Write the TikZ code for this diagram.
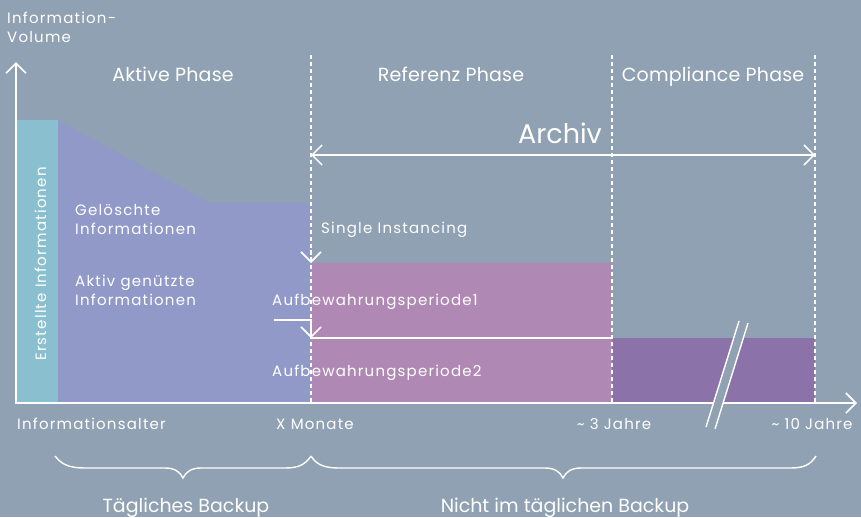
\documentclass[tikz,border=0pt]{standalone}
\usepackage{fontspec}
\setmainfont{Poppins}
\newfontfamily\smallfont[LetterSpace=8]{Poppins}
\newfontfamily\phasefont[LetterSpace=1]{Poppins}
\usetikzlibrary{arrows.meta}
\definecolor{bgc}{RGB}{143,161,178}
\definecolor{tealc}{RGB}{138,191,207}
\definecolor{bluec}{RGB}{144,153,200}
\definecolor{pinkc}{RGB}{176,136,180}
\definecolor{purplec}{RGB}{139,114,169}
\begin{document}
\begin{tikzpicture}[x=1pt,y=-1pt,
  barb/.style={-{Straight Barb[length=10pt,width=20pt,line width=1.6pt]}},
  wline/.style={white, line width=1.6pt},
  dline/.style={white, line width=1.5pt, dash pattern=on 3.5pt off 3.5pt},
  lbl/.style={text=white, inner sep=0pt, font=\smallfont\fontsize{15}{15}\selectfont},
  phase/.style={text=white, inner sep=0pt, font=\phasefont\fontsize{19}{19}\selectfont},
  bottom/.style={text=white, inner sep=0pt, font=\fontsize{19}{19}\selectfont},
  big/.style={text=white, inner sep=0pt, font=\fontsize{27}{27}\selectfont}]
\useasboundingbox[fill=bgc] (0,0) rectangle (861,517);
% areas
\fill[tealc] (17,120) rectangle (58,403);
\fill[bluec] (58,120) -- (210,203) -- (311,203) -- (311,403) -- (58,403) -- cycle;
\fill[pinkc] (311,263) rectangle (612,403);
\fill[purplec] (612,338) rectangle (815,403);
% axes
\coordinate (yt) at (16,62);
\coordinate (org) at (16,403);
\coordinate (xe) at (857,403);
\draw[wline, {Straight Barb[length=10pt,width=20pt,line width=1.6pt]}-{Straight Barb[length=10pt,width=20pt,line width=1.6pt]}] (yt) -- (org) -- (xe);
% break
\fill[bgc] (706,427) -- (739,321) -- (748,323) -- (715,429) -- cycle;
\draw[white, line width=1.4pt] (706,427) -- (739,321) (715,429) -- (748,323);
% dashed phase lines
\coordinate (d1t) at (311,55); \coordinate (d1b) at (311,403);
\coordinate (d2t) at (612,55); \coordinate (d2b) at (612,403);
\coordinate (d3t) at (815,55); \coordinate (d3b) at (815,403);
\draw[dline] (d1t) -- (d1b);
\draw[dline] (d2t) -- (d2b);
\draw[dline] (d3t) -- (d3b);
% Archiv arrow
\coordinate (a1) at (311,155); \coordinate (a2) at (815,155);
\draw[wline, line width=1.5pt, {Straight Barb[length=10pt,width=20pt,line width=1.5pt]}-{Straight Barb[length=10pt,width=20pt,line width=1.5pt]}] (a1) -- (a2);
% single instancing arrow
\coordinate (si1) at (311,250); \coordinate (si2) at (311,263);
\draw[dline, barb] (si1) -- (si2);
% retention arrow
\coordinate (r0) at (274,320); \coordinate (r1) at (311,320); \coordinate (r2) at (311,338);
\draw[wline, barb] (r0) -- (r1) -- (r2);
\coordinate (h2) at (612,338);
\draw[white, line width=1.5pt] (r2) -- (h2);
% braces
\draw[white, line width=1.4pt] (55,456) .. controls (62,465) and (70,468) .. (85,468) -- (165,468) .. controls (175,468) and (180,472) .. (183,478) .. controls (186,472) and (191,468) .. (201,468) -- (285,468) .. controls (298,468) and (305,465) .. (311,456);
\draw[white, line width=1.4pt] (311,456) .. controls (317,465) and (324,468) .. (340,468) -- (545,468) .. controls (555,468) and (560,472) .. (563,478) .. controls (566,472) and (571,468) .. (581,468) -- (790,468) .. controls (804,468) and (810,465) .. (816,456);
% texts
\node[lbl, anchor=base west] (t1) at (7,23) {Information-};
\node[lbl, anchor=base west] (t2) at (7,42) {Volume};
\node[phase, anchor=base] (p1) at (173,81) {Aktive Phase};
\node[phase, anchor=base] (p2) at (451,81) {Referenz Phase};
\node[phase, anchor=base] (p3) at (713,81) {Compliance Phase};
\node[big, anchor=base] (arch) at (560,143) {Archiv};
\node[lbl, anchor=base, rotate=90] (erst) at (46,264) {Erstellte Informationen};
\node[lbl, anchor=base west] (g1) at (75,215) {Gelöschte};
\node[lbl, anchor=base west] (g2) at (75,234) {Informationen};
\node[lbl, anchor=base west] (k1) at (75,286) {Aktiv genützte};
\node[lbl, anchor=base west] (k2) at (75,305) {Informationen};
\node[lbl, anchor=base west] (si) at (321,233) {Single Instancing};
\node[lbl, anchor=base west] (ab1) at (272,305) {Aufbewahrungsperiode1};
\node[lbl, anchor=base west] (ab2) at (272,376) {Aufbewahrungsperiode2};
\node[lbl, anchor=base west] (x0) at (17,429) {Informationsalter};
\node[lbl, anchor=base] (x1) at (315,429) {X Monate};
\node[lbl, anchor=base] (x2) at (614,429) {\textasciitilde\ 3 Jahre};
\node[lbl, anchor=base] (x3) at (812,429) {\textasciitilde\ 10 Jahre};
\node[bottom, anchor=base] (b1) at (186,512) {Tägliches Backup};
\node[bottom, anchor=base] (b2) at (565,512) {Nicht im täglichen Backup};
\end{tikzpicture}
\end{document}
